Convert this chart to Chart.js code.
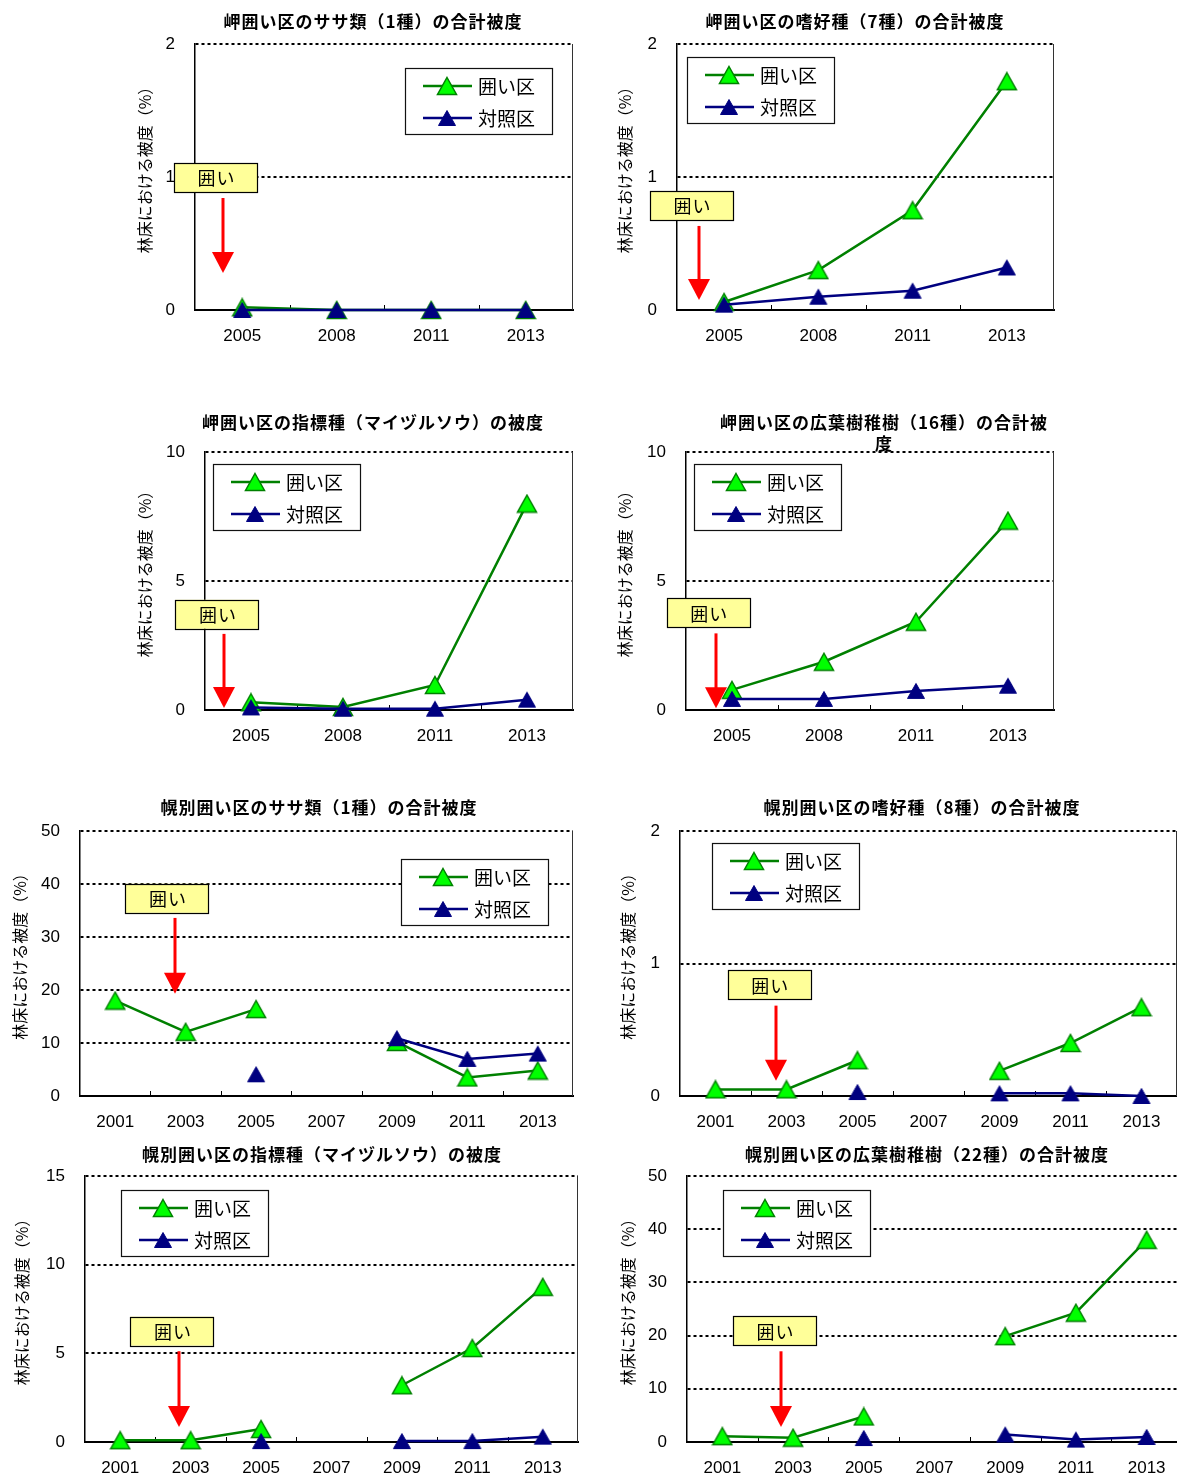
<!DOCTYPE html>
<html><head><meta charset="utf-8">
<script src="https://cdn.jsdelivr.net/npm/chart.js@4"></script>
<style>
html,body{margin:0;padding:0;background:#fff;overflow:hidden;width:1177px;height:1476px;position:relative;}
canvas{position:absolute;}
</style></head><body>
<script>
// ---- data ----
const yearsMisaki = ['2005','2008','2011','2013'];
const yearsHoro = ['2001','2003','2005','2007','2009','2011','2013'];
const seriesNames = ['囲い区','対照区'];
const fenceLabel = '囲い';
const yAxisTitle = '林床における被度（%）';

const misakiSasaFenced   = [0.02, 0, 0, 0];
const misakiSasaControl  = [0, 0, 0, 0];
const misakiPalFenced    = [0.06, 0.30, 0.75, 1.72];
const misakiPalControl   = [0.04, 0.10, 0.145, 0.32];
const misakiIndFenced    = [0.3, 0.12, 0.97, 8.0];
const misakiIndControl   = [0.1, 0.05, 0.05, 0.4];
const misakiBlFenced     = [0.78, 1.87, 3.42, 7.34];
const misakiBlControl    = [0.43, 0.43, 0.74, 0.94];
const horoSasaFenced     = [18, 12.1, 16.4, null, 10.2, 3.5, 4.8];
const horoSasaControl    = [null, null, 4.1, null, 10.9, 7.0, 8.0];
const horoPalFenced      = [0.05, 0.05, 0.27, null, 0.19, 0.40, 0.67];
const horoPalControl     = [null, null, 0.03, null, 0.02, 0.02, 0.0];
const horoIndFenced      = [0.1, 0.1, 0.73, null, 3.2, 5.3, 8.75];
const horoIndControl     = [null, null, 0.05, null, 0.05, 0.05, 0.3];
const horoBlFenced       = [1.1, 0.8, 4.8, null, 19.9, 24.3, 38];
const horoBlControl      = [null, null, 0.75, null, 1.4, 0.45, 0.95];

const titles = [
  ['岬囲い区のササ類（1種）の合計被度'],
  ['岬囲い区の嗜好種（7種）の合計被度'],
  ['岬囲い区の指標種（マイヅルソウ）の被度'],
  ['岬囲い区の広葉樹稚樹（16種）の合計被','度'],
  ['幌別囲い区のササ類（1種）の合計被度'],
  ['幌別囲い区の嗜好種（8種）の合計被度'],
  ['幌別囲い区の指標種（マイヅルソウ）の被度'],
  ['幌別囲い区の広葉樹稚樹（22種）の合計被度']
];

// ---- styles ----
const FONT_CJK = '"Noto Sans CJK JP", "Noto Sans", sans-serif';
const FONT_NUM = '"Liberation Sans", Arial, sans-serif';
const GREEN = '#008000', NAVY = '#000080';

function makeTri(w, h, fill, stroke, lw) {
  const c = document.createElement('canvas');
  const pad = 1;
  c.width = w + 2 * pad; c.height = h + 2 * pad;
  const g = c.getContext('2d');
  g.beginPath();
  g.moveTo(pad + w / 2, pad + 0.5);
  g.lineTo(pad + w - 0.5, pad + h - 0.5);
  g.lineTo(pad + 0.5, pad + h - 0.5);
  g.closePath();
  g.fillStyle = fill; g.fill();
  g.lineWidth = lw; g.strokeStyle = stroke; g.stroke();
  return c;
}
const triGreen = makeTri(20, 18, '#00FF00', GREEN, 1.5);
const triNavy = makeTri(18, 16, NAVY, NAVY, 1);

// ---- panel layout (page coordinates) ----
const panels = [
  {canvas:[0,0,590,360], plot:[195,44,573,310], labels:yearsMisaki, f:misakiSasaFenced, c:misakiSasaControl, yMax:2, step:1,
   title:titles[0], tx:372, ty:[22], ytx:145, legend:{right:21, top:24},
   fence:{boxX:-0.283, boxY:0.996, arrowX:-0.204, arrowTop:0.842, arrowTip:0.278}},
  {canvas:[590,0,587,360], plot:[677,44,1054,310], labels:yearsMisaki, f:misakiPalFenced, c:misakiPalControl, yMax:2, step:1,
   title:titles[1], tx:854, ty:[22], ytx:625, legend:{left:10, top:13},
   fence:{boxX:-0.346, boxY:0.786, arrowX:-0.267, arrowTop:0.632, arrowTip:0.075}},
  {canvas:[0,380,590,390], plot:[205,452,573,710], labels:yearsMisaki, f:misakiIndFenced, c:misakiIndControl, yMax:10, step:5,
   title:titles[2], tx:372, ty:[423], ytx:145, legend:{left:8, top:12},
   fence:{boxX:-0.37, boxY:3.71, arrowX:-0.29, arrowTop:2.95, arrowTip:0.08}},
  {canvas:[590,380,587,390], plot:[686,452,1054,710], labels:yearsMisaki, f:misakiBlFenced, c:misakiBlControl, yMax:10, step:5,
   title:titles[3], tx:883, ty:[423,444], ytx:625, legend:{left:8, top:12},
   fence:{boxX:-0.257, boxY:3.76, arrowX:-0.174, arrowTop:2.97, arrowTip:0.07}},
  {canvas:[0,780,590,360], plot:[80,831,573,1096], labels:yearsHoro, f:horoSasaFenced, c:horoSasaControl, yMax:50, step:10,
   title:titles[4], tx:318, ty:[808], ytx:20, legend:{right:25, top:28},
   fence:{boxX:0.735, boxY:37.3, arrowX:0.85, arrowTop:33.6, arrowTip:19.3}},
  {canvas:[590,780,592,360], plot:[680,831,1177,1096], labels:yearsHoro, f:horoPalFenced, c:horoPalControl, yMax:2, step:1,
   title:titles[5], tx:921, ty:[808], ytx:628, legend:{left:32, top:12},
   fence:{boxX:0.756, boxY:0.839, arrowX:0.855, arrowTop:0.682, arrowTip:0.115}},
  {canvas:[0,1140,590,336], plot:[85,1176,578,1442], labels:yearsHoro, f:horoIndFenced, c:horoIndControl, yMax:15, step:5,
   title:titles[6], tx:321, ty:[1155], ytx:22, legend:{left:36, top:14},
   fence:{boxX:0.734, boxY:6.25, arrowX:0.83, arrowTop:5.12, arrowTip:0.85}},
  {canvas:[590,1140,595,336], plot:[687,1176,1182,1442], labels:yearsHoro, f:horoBlFenced, c:horoBlControl, yMax:50, step:10,
   title:titles[7], tx:926, ty:[1155], ytx:628, legend:{left:36, top:14},
   fence:{boxX:0.737, boxY:20.9, arrowX:0.832, arrowTop:17.05, arrowTip:2.82}}
];

const decor = {
  id: 'decor',
  beforeDatasetsDraw(chart) {
    const p = chart.options.plugins.decor.panel;
    const {ctx, chartArea: a, scales: {x, y}} = chart;
    ctx.save();
    // right frame
    ctx.strokeStyle = '#333'; ctx.lineWidth = 1;
    ctx.beginPath(); ctx.moveTo(a.right - 0.5, a.top); ctx.lineTo(a.right - 0.5, a.bottom); ctx.stroke();
    // inner tick marks between categories
    ctx.strokeStyle = '#000'; ctx.lineWidth = 1;
    for (let i = 0; i < x.ticks.length - 1; i++) {
      const px = Math.round(x.getPixelForValue(i + 0.5)) + 0.5;
      ctx.beginPath(); ctx.moveTo(px, a.bottom); ctx.lineTo(px, a.bottom - 5); ctx.stroke();
    }
    // fence annotation
    const f = p.fence;
    const bx = x.getPixelForValue(f.boxX), by = y.getPixelForValue(f.boxY);
    const bw = 83, bh = 29;
    ctx.fillStyle = '#FFFF99';
    ctx.fillRect(bx - bw / 2, by - bh / 2, bw, bh);
    ctx.strokeStyle = '#000'; ctx.lineWidth = 1.2;
    ctx.strokeRect(Math.round(bx - bw / 2) + 0.5, Math.round(by - bh / 2) + 0.5, bw, bh);
    ctx.fillStyle = '#000';
    ctx.font = '18px ' + FONT_CJK;
    ctx.textAlign = 'center'; ctx.textBaseline = 'middle';
    try { ctx.letterSpacing = '1px'; } catch (e) {}
    ctx.fillText(fenceLabel, bx + 1, by + 1);
    try { ctx.letterSpacing = '0px'; } catch (e) {}
    const ax = Math.round(x.getPixelForValue(f.arrowX));
    const at = y.getPixelForValue(f.arrowTop), tip = y.getPixelForValue(f.arrowTip);
    const hh = 21, hw = 22;
    ctx.strokeStyle = '#FF0000'; ctx.lineWidth = 3;
    ctx.beginPath(); ctx.moveTo(ax, at); ctx.lineTo(ax, tip - hh + 1); ctx.stroke();
    ctx.fillStyle = '#FF0000';
    ctx.beginPath(); ctx.moveTo(ax - hw / 2, tip - hh); ctx.lineTo(ax + hw / 2, tip - hh); ctx.lineTo(ax, tip); ctx.closePath(); ctx.fill();
    ctx.restore();
  },
  afterDatasetsDraw(chart) {
    const p = chart.options.plugins.decor.panel;
    const {ctx, chartArea: a} = chart;
    const L = p.legend, W = 147, H = 66;
    const lx = Math.round(L.left != null ? a.left + L.left : a.right - L.right - W);
    const ly = Math.round(a.top + L.top);
    ctx.save();
    ctx.fillStyle = '#fff'; ctx.fillRect(lx, ly, W, H);
    ctx.strokeStyle = '#111'; ctx.lineWidth = 1.2; ctx.strokeRect(lx + 0.5, ly + 0.5, W, H);
    chart.data.datasets.forEach((d, i) => {
      const cy = ly + 18 + i * 32;
      ctx.strokeStyle = d.borderColor; ctx.lineWidth = 2.5;
      ctx.beginPath(); ctx.moveTo(lx + 18, cy); ctx.lineTo(lx + 67, cy); ctx.stroke();
      const img = d.pointStyle;
      ctx.drawImage(img, lx + 42 - img.width / 2, cy - img.height / 2);
      ctx.fillStyle = '#000'; ctx.font = '19px ' + FONT_CJK;
      ctx.textAlign = 'left'; ctx.textBaseline = 'middle';
      ctx.fillText(d.label, lx + 73, cy + 1);
    });
    ctx.restore();
  },
  afterDraw(chart) {
    const p = chart.options.plugins.decor.panel;
    const {ctx, chartArea: a} = chart;
    const ox = p.canvas[0], oy = p.canvas[1];
    ctx.save();
    ctx.fillStyle = '#000';
    ctx.font = 'bold 17px ' + FONT_CJK;
    ctx.textAlign = 'center'; ctx.textBaseline = 'middle';
    try { ctx.letterSpacing = '1px'; } catch (e) {}
    p.title.forEach((t, i) => ctx.fillText(t, p.tx - ox + 1, p.ty[i] - oy));
    try { ctx.letterSpacing = '0px'; } catch (e) {}
    ctx.translate(p.ytx - ox, (a.top + a.bottom) / 2 - 11);
    ctx.rotate(-Math.PI / 2);
    ctx.font = '16px ' + FONT_CJK;
    ctx.fillText(yAxisTitle, 0, 0);
    ctx.restore();
  }
};

panels.forEach(p => {
  const [cx, cy, cw, ch] = p.canvas;
  const [l, t, r, b] = p.plot;
  const cv = document.createElement('canvas');
  cv.width = cw; cv.height = ch;
  cv.style.left = cx + 'px'; cv.style.top = cy + 'px';
  cv.style.width = cw + 'px'; cv.style.height = ch + 'px';
  document.body.appendChild(cv);
  new Chart(cv, {
    type: 'line',
    data: {
      labels: p.labels,
      datasets: [
        {label: seriesNames[0], data: p.f, borderColor: GREEN, backgroundColor: '#00FF00', borderWidth: 2.5,
         pointStyle: triGreen, pointRadius: 10, pointHoverRadius: 10, tension: 0, clip: false, spanGaps: false, order: 2},
        {label: seriesNames[1], data: p.c, borderColor: NAVY, backgroundColor: NAVY, borderWidth: 2.5,
         pointStyle: triNavy, pointRadius: 9, pointHoverRadius: 9, tension: 0, clip: false, spanGaps: false, order: 1}
      ]
    },
    options: {
      responsive: false, animation: false,
      events: [],
      layout: {autoPadding: false, padding: {left: 0, top: t - cy, right: cx + cw - r, bottom: 0}},
      plugins: {legend: {display: false}, title: {display: false}, tooltip: {enabled: false}, decor: {panel: p}},
      scales: {
        x: {
          type: 'category', offset: true,
          grid: {display: false, drawTicks: false},
          border: {display: true, color: '#000', width: 2},
          ticks: {color: '#000', font: {family: FONT_NUM, size: 17, lineHeight: 52 / 17}, padding: 0, maxRotation: 0, autoSkip: false},
          afterFit: s => { s.height = cy + ch - b; s.paddingLeft = 0; s.paddingRight = 0; }
        },
        y: {
          min: 0, max: p.yMax,
          grid: {color: '#000', lineWidth: 2, drawTicks: false},
          border: {display: true, color: '#000', width: 1.5, dash: [3, 3]},
          ticks: {stepSize: p.step, color: '#000', font: {family: FONT_NUM, size: 17}, padding: 20},
          afterFit: s => { s.width = l - cx; }
        }
      }
    },
    plugins: [decor]
  });
});
</script>
</body></html>
